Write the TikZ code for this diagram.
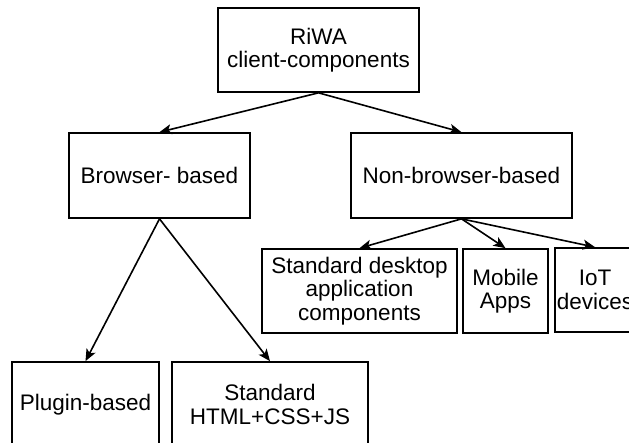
\documentclass[tikz,border=0pt]{standalone}
\usepackage{fontspec}
\setmainfont{Liberation Sans}
\usetikzlibrary{arrows.meta}
\tikzset{
    box/.style = {draw, line width = 1.7pt, inner sep = 0pt, align = center,
        font = \fontsize{22.5}{23.5}\selectfont},
    arr/.style = {-{Stealth[length = 12pt, width = 10pt, inset = 3pt]}, line width = 1.6pt}
}
\begin{document}
\begin{tikzpicture}[x = 1pt, y = -1pt]
        \clip (0, 0) rectangle (629, 443);
        \fill [white] (0, 0) rectangle (629, 443);
        % levels
        \node [box, minimum width = 201, minimum height = 84] (riwa) at (318.5, 50) {RiWA\\client-components};
        \node [box, minimum width = 181, minimum height = 85] (browser) at (159.5, 175.5) {Browser- based};
        \node [box, minimum width = 221, minimum height = 85] (nonbrowser) at (461.5, 175.5) {Non-browser-based};
        \node [box, minimum width = 195, minimum height = 84] (desktop) at (359.5, 291) {Standard desktop\\application\\components};
        \node [box, minimum width = 85, minimum height = 84] (mobile) at (505.5, 291) {Mobile\\Apps};
        \node [box, minimum width = 80, minimum height = 84] (iot) at (595, 290) {IoT\\devices};
        \node [box, minimum width = 147, minimum height = 85] (plugin) at (85.5, 404.5) {Plugin-based};
        \node [box, minimum width = 196, minimum height = 85] (html) at (270, 404.5) {Standard\\HTML+CSS+JS};
        % arrows
        \draw [arr] (riwa.south) -- (browser.north);
        \draw [arr] (riwa.south) -- (nonbrowser.north);
        \draw [arr] (browser.south) -- (plugin.north);
        \draw [arr] (browser.south) -- (html.north);
        \draw [arr] (nonbrowser.south) -- (desktop.north);
        \draw [arr] (nonbrowser.south) -- (mobile.north);
        \draw [arr] (nonbrowser.south) -- (iot.north);
    \end{tikzpicture}
\end{document}
